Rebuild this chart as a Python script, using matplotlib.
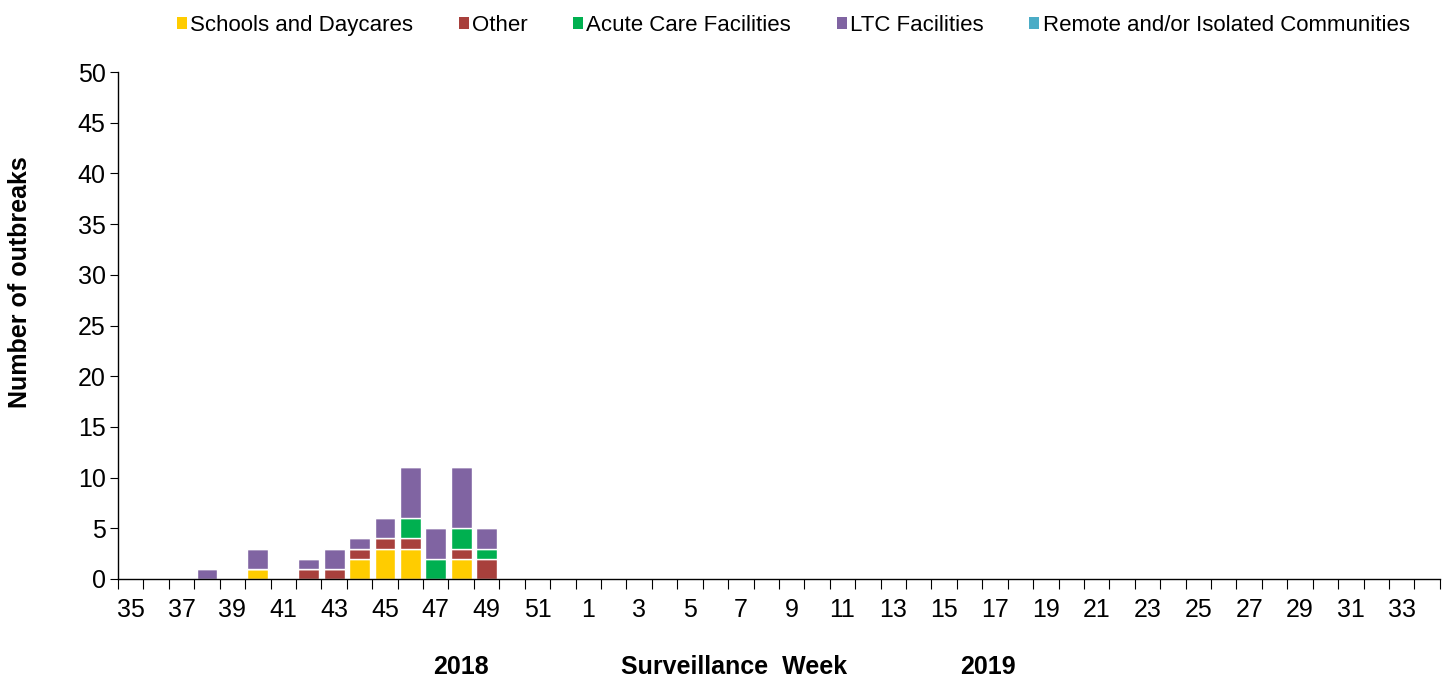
import matplotlib.pyplot as plt
import numpy as np
from matplotlib.patches import Patch

plt.rcParams['font.family'] = ['Liberation Sans', 'DejaVu Sans']

weeks = list(range(35, 53)) + list(range(1, 35))
tick_labels = [str(w) if i % 2 == 0 else '' for i, w in enumerate(weeks)]

series_names = ['Schools and Daycares', 'Other', 'Acute Care Facilities',
                'LTC Facilities', 'Remote and/or Isolated Communities']
colors = ['#FFCC00', '#A8403C', '#00B050', '#8064A2', '#4BACC6']

# values by surveillance week (weeks 38..49 of 2018), rest zero
shown_weeks = [38, 39, 40, 41, 42, 43, 44, 45, 46, 47, 48, 49]
schools = [0, 0, 1, 0, 0, 0, 2, 3, 3, 0, 2, 0]
other = [0, 0, 0, 0, 1, 1, 1, 1, 1, 0, 1, 2]
acute = [0, 0, 0, 0, 0, 0, 0, 0, 2, 2, 2, 1]
ltc = [1, 0, 2, 0, 1, 2, 1, 2, 5, 3, 6, 2]
remote = [0] * 12

def full(vals):
    out = np.zeros(len(weeks))
    for w, v in zip(shown_weeks, vals):
        out[weeks.index(w)] = v
    return out

data = [full(s) for s in (schools, other, acute, ltc, remote)]

fig = plt.figure(figsize=(14.5, 6.77), dpi=100)
ax = fig.add_axes([0.0814, 0.1448, 0.9116, 0.7488])

x = np.arange(len(weeks))
bottom = np.zeros(len(weeks))
for name, vals, c in zip(series_names, data, colors):
    ax.bar(x, vals, width=0.82, bottom=bottom, color=c, edgecolor='white',
           linewidth=1.0, label=name)
    bottom += vals

ax.set_xlim(-0.5, len(weeks) - 0.5)
ax.set_ylim(0, 50)
ax.set_yticks(np.arange(0, 51, 5))
ax.tick_params(axis='y', labelsize=18, length=6, direction='out', pad=3)

ax.set_xticks(np.arange(-0.5, len(weeks), 1))
ax.set_xticklabels([])
ax.tick_params(axis='x', which='major', length=7, direction='out')
ax.set_xticks(x, minor=True)
ax.set_xticklabels(tick_labels, minor=True)
ax.tick_params(axis='x', which='minor', length=0, labelsize=18, pad=14)

for s in ['top', 'right']:
    ax.spines[s].set_visible(False)
for s in ['left', 'bottom']:
    ax.spines[s].set_color('#000000')
    ax.spines[s].set_linewidth(1.0)

fig.text(0.014, 0.583, 'Number of outbreaks', fontsize=18, fontweight='bold',
         rotation=90, ha='center', va='center')

fig.text(0.318, 0.005, '2018', fontsize=18, fontweight='bold', ha='center')
fig.text(0.506, 0.005, 'Surveillance  Week', fontsize=18, fontweight='bold', ha='center')
fig.text(0.681, 0.005, '2019', fontsize=18, fontweight='bold', ha='center')

handles = [Patch(facecolor=c, edgecolor='none') for c in colors]
fig.legend(handles, series_names, loc='upper center', bbox_to_anchor=(0.547, 1.008),
           ncol=5, frameon=False, fontsize=16, handlelength=0.45, handleheight=0.45,
           handletextpad=0.15, columnspacing=2.05)

fig.savefig('out.png', dpi=100)
